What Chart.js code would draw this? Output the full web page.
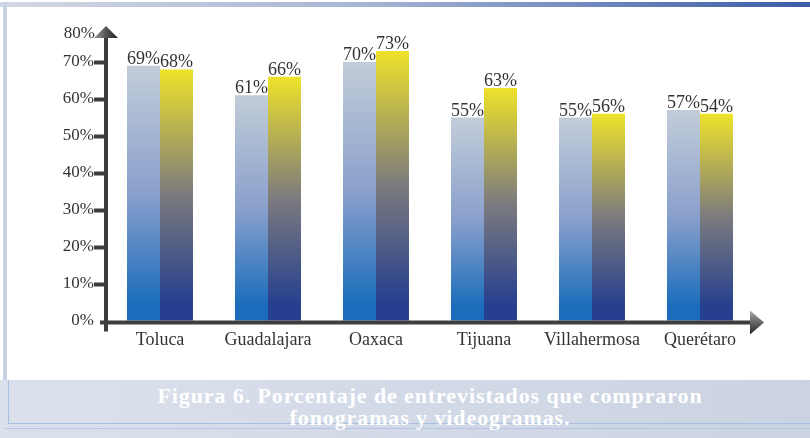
<!DOCTYPE html>
<html>
<head>
<meta charset="utf-8">
<script src="https://cdn.jsdelivr.net/npm/chart.js@4"></script>
<style>
  html, body { margin: 0; padding: 0; background: #fff; }
  #wrap { position: relative; width: 810px; height: 438px; overflow: hidden; }
  #topbar { position: absolute; left: 0; top: 2px; width: 810px; height: 5px;
    background: linear-gradient(to right, #d3d9e3, #a7b5d4 45%, #3b5da7); }
  #leftbar { position: absolute; left: 3px; top: 2px; width: 4px; height: 378px; background: #c9d2e2; }
  #caption { position: absolute; left: 0; top: 380px; width: 810px; height: 58px;
    background: linear-gradient(to right, #dbe1ec, #cbd3e2); }
  #capline1 { position: absolute; left: 8px; top: 0; width: 802px; height: 43px;
    border-left: 1px solid #a9bfe0; border-bottom: 1px solid #a9bfe0; }
  #capline2 { position: absolute; left: 5px; top: 48px; width: 805px; height: 0;
    border-top: 1px solid #b4c6e2; }
  #captext { position: absolute; left: 0; top: 5px; width: 860px; text-align: center;
    font-family: "Liberation Serif", serif; font-weight: bold; font-size: 22px;
    letter-spacing: 0.9px; line-height: 22px; color: #fff; }
  #chartCanvas { position: absolute; left: 0; top: 0; }
</style>
</head>
<body>
<div id="wrap">
  <div id="topbar"></div>
  <div id="leftbar"></div>
  <div id="caption">
    <div id="capline1"></div>
    <div id="capline2"></div>
    <div id="captext">Figura 6. Porcentaje de entrevistados que compraron<br>fonogramas y videogramas.</div>
  </div>
  <canvas id="chartCanvas" width="810" height="380"></canvas>
</div>
<script>
const cities = ['Toluca', 'Guadalajara', 'Oaxaca', 'Tijuana', 'Villahermosa', 'Querétaro'];
// bar heights as drawn, and the percentages printed above them
const fonogramas = [69, 61, 70, 55, 55, 57];
const videogramas = [68, 66, 73, 63, 56, 56];
const fonogramasLabels = ['69%', '61%', '70%', '55%', '55%', '57%'];
const videogramasLabels = ['68%', '66%', '73%', '63%', '56%', '54%'];
const yTicks = [0, 10, 20, 30, 40, 50, 60, 70, 80];
const yMax = 80;

const serif = '"Liberation Serif", "Times New Roman", serif';

function barGradient(stops) {
  return (context) => {
    const chart = context.chart;
    const area = chart.chartArea;
    if (!area || context.parsed == null) return stops[0];
    const yTop = chart.scales.y.getPixelForValue(context.parsed.y);
    const g = chart.ctx.createLinearGradient(0, yTop, 0, area.bottom);
    g.addColorStop(0, stops[0]);
    g.addColorStop(0.5, stops[1]);
    g.addColorStop(0.93, stops[2]);
    g.addColorStop(1, stops[2]);
    return g;
  };
}

// value labels above the bars
const valueLabels = {
  id: 'valueLabels',
  afterDatasetsDraw(chart) {
    const ctx = chart.ctx;
    ctx.save();
    ctx.font = '18px ' + serif;
    ctx.fillStyle = '#333';
    ctx.textAlign = 'center';
    ctx.textBaseline = 'alphabetic';
    chart.data.datasets.forEach((ds, i) => {
      chart.getDatasetMeta(i).data.forEach((bar, j) => {
        ctx.fillText(ds.valueLabels[j], bar.x, bar.y - 2);
      });
    });
    ctx.restore();
  }
};

// axis lines with arrow heads
const arrowAxes = {
  id: 'arrowAxes',
  afterDraw(chart) {
    const ctx = chart.ctx;
    const a = chart.chartArea;
    const x0 = a.left, y0 = a.bottom + 1.5;
    ctx.save();
    ctx.strokeStyle = '#3d3d3d';
    ctx.lineWidth = 4;
    ctx.beginPath();
    ctx.moveTo(x0, a.top + 13);
    ctx.lineTo(x0, y0 + 9);
    ctx.moveTo(x0 - 6, y0);
    ctx.lineTo(a.right - 2, y0);
    ctx.stroke();

    let g = ctx.createLinearGradient(x0 - 12, 0, x0 + 12, 0);
    g.addColorStop(0, '#9a9a9a');
    g.addColorStop(0.5, '#555');
    g.addColorStop(1, '#222');
    ctx.fillStyle = g;
    ctx.beginPath();
    ctx.moveTo(x0, a.top + 1);
    ctx.lineTo(x0 + 12, a.top + 13);
    ctx.lineTo(x0 - 12, a.top + 13);
    ctx.closePath();
    ctx.fill();

    g = ctx.createLinearGradient(0, y0 - 12, 0, y0 + 12);
    g.addColorStop(0, '#aaa');
    g.addColorStop(0.5, '#666');
    g.addColorStop(1, '#222');
    ctx.fillStyle = g;
    ctx.beginPath();
    ctx.moveTo(a.right - 4, y0 - 12);
    ctx.lineTo(a.right + 10, y0);
    ctx.lineTo(a.right - 4, y0 + 12);
    ctx.closePath();
    ctx.fill();

    // top tick label sits beside the arrow head, a bit lower
    ctx.font = '17px ' + serif;
    ctx.fillStyle = '#333';
    ctx.textAlign = 'right';
    ctx.textBaseline = 'middle';
    ctx.fillText(yMax + '%', x0 - 11, chart.scales.y.getPixelForValue(yMax) + 9);
    ctx.restore();
  }
};

const chartContainer = document.getElementById('chartCanvas');

const myChart = new Chart(chartContainer, {
  type: 'bar',
  data: {
    labels: cities,
    datasets: [{
      label: 'Fonogramas',
      data: fonogramas,
      valueLabels: fonogramasLabels,
      backgroundColor: barGradient(['#c2cdd9', '#8aa0cc', '#1b6dbb']),
      borderWidth: 0,
    }, {
      label: 'Videogramas',
      data: videogramas,
      valueLabels: videogramasLabels,
      backgroundColor: barGradient(['#eee22a', '#7b7a7e', '#26408f']),
      borderWidth: 0,
    }]
  },
  options: {
    responsive: false,
    animation: false,
    layout: { padding: { left: 0, right: 56, top: 25, bottom: 0 } },
    datasets: {
      bar: { categoryPercentage: 0.611, barPercentage: 1 },
    },
    plugins: {
      legend: { display: false },
      tooltip: { enabled: false },
    },
    scales: {
      x: {
        offset: true,
        afterFit(scale) { scale.height = 59; },
        grid: { display: false, drawTicks: false },
        border: { display: false },
        ticks: {
          color: '#333',
          padding: 8,
          font: { family: serif, size: 18 },
        },
      },
      y: {
        min: 0,
        max: yMax,
        afterFit(scale) { scale.width = 106; },
        afterBuildTicks(scale) { scale.ticks = yTicks.map(v => ({ value: v })); },
        grid: {
          drawOnChartArea: false,
          drawTicks: true,
          tickLength: 12,
          tickWidth: 4,
          tickColor: (c) => (c.tick && (c.tick.value === yMax || c.tick.value === 0)) ? 'rgba(0,0,0,0)' : '#3d3d3d',
        },
        border: { display: false },
        ticks: {
          color: '#333',
          padding: 0,
          font: { family: serif, size: 17 },
          callback: (v) => v === yMax ? '' : v + '%',
        },
      },
    },
  },
  plugins: [valueLabels, arrowAxes],
});
</script>
</body>
</html>
